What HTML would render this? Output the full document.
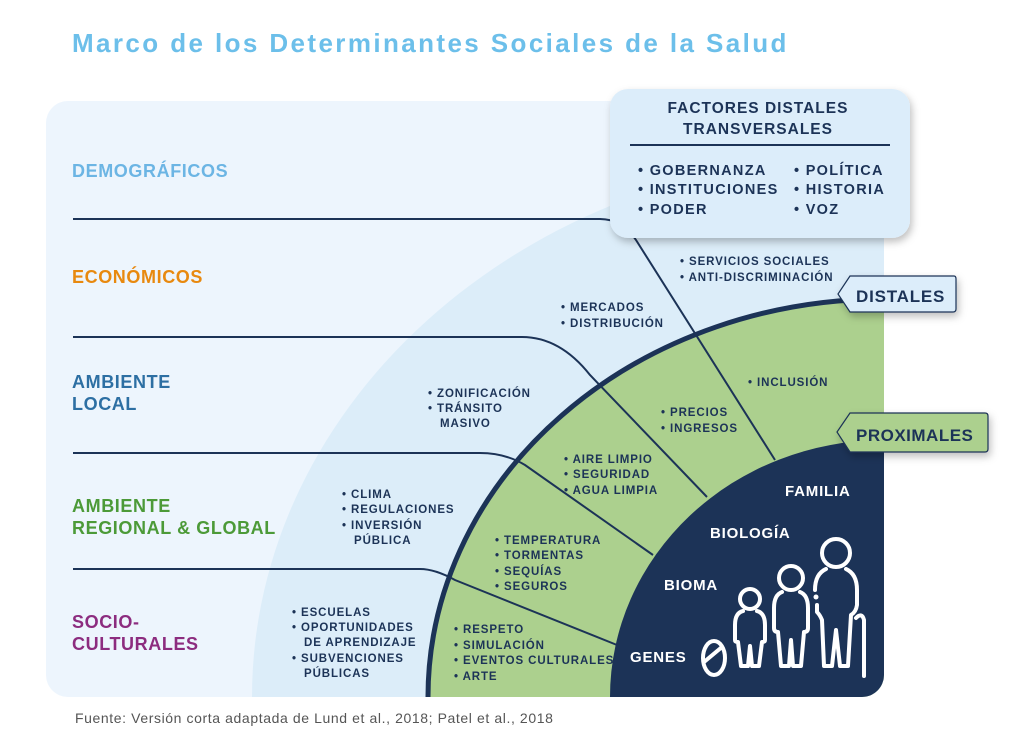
<!DOCTYPE html>
<html><head><meta charset="utf-8"><style>
html,body{margin:0;padding:0;background:#fff;width:1024px;height:756px;overflow:hidden;}
svg{display:block;font-family:"Liberation Sans",sans-serif;font-weight:bold;}
</style></head><body>
<svg width="1024" height="756" viewBox="0 0 1024 756" xmlns="http://www.w3.org/2000/svg">
<defs>
<clipPath id="card"><rect x="46" y="101" width="838" height="596" rx="22"/></clipPath>
<filter id="sh" x="-20%" y="-20%" width="140%" height="150%"><feDropShadow dx="2" dy="4" stdDeviation="4" flood-color="#000" flood-opacity="0.25"/></filter>
</defs>
<text x="72" y="52" font-size="26" fill="#6cbfea" letter-spacing="2.4">Marco de los Determinantes Sociales de la Salud</text>
<rect x="46" y="101" width="838" height="596" rx="22" fill="#edf5fd"/>
<g clip-path="url(#card)">
<ellipse cx="884" cy="697" rx="632" ry="545" fill="#dcedf9"/>
<ellipse cx="884" cy="697" rx="456" ry="398" fill="#acd08e"/>
<ellipse cx="884" cy="697" rx="456" ry="398" fill="none" stroke="#1c3357" stroke-width="5"/>
<ellipse cx="884" cy="697" rx="274" ry="257" fill="#1c3357"/>
</g>
<g fill="none" stroke="#1c3357" stroke-width="2">
<path d="M73 219 H600 Q622 219 636 240 L775 460"/>
<path d="M73 337 H522 Q560 337 590 375 L707 497"/>
<path d="M73 453 H480 Q505 453 525 465 L653 555"/>
<path d="M73 569 H420 Q435 569 455 580 L617 645"/>
</g>
<g font-size="18" letter-spacing="0.6">
<text x="72" y="177" fill="#6cb5e4">DEMOGRÁFICOS</text>
<text x="72" y="283" fill="#e8890f">ECONÓMICOS</text>
<text x="72" y="388" fill="#2d6fa3">AMBIENTE</text>
<text x="72" y="410" fill="#2d6fa3">LOCAL</text>
<text x="72" y="512" fill="#4c9a38">AMBIENTE</text>
<text x="72" y="534" fill="#4c9a38">REGIONAL &amp; GLOBAL</text>
<text x="72" y="628" fill="#8c2c7f">SOCIO-</text>
<text x="72" y="650" fill="#8c2c7f">CULTURALES</text>
</g>
<g font-size="11.5" fill="#1c3357" letter-spacing="0.9">
<text x="680" y="265">• SERVICIOS SOCIALES</text>
<text x="680" y="281">• ANTI-DISCRIMINACIÓN</text>
<text x="561" y="311">• MERCADOS</text>
<text x="561" y="327">• DISTRIBUCIÓN</text>
<text x="748" y="386">• INCLUSIÓN</text>
<text x="428" y="397">• ZONIFICACIÓN</text>
<text x="428" y="412">• TRÁNSITO</text>
<text x="440" y="427">MASIVO</text>
<text x="661" y="416">• PRECIOS</text>
<text x="661" y="432">• INGRESOS</text>
<text x="564" y="463">• AIRE LIMPIO</text>
<text x="564" y="478">• SEGURIDAD</text>
<text x="564" y="494">• AGUA LIMPIA</text>
<text x="342" y="498">• CLIMA</text>
<text x="342" y="513">• REGULACIONES</text>
<text x="342" y="529">• INVERSIÓN</text>
<text x="354" y="544">PÚBLICA</text>
<text x="495" y="544">• TEMPERATURA</text>
<text x="495" y="559">• TORMENTAS</text>
<text x="495" y="575">• SEQUÍAS</text>
<text x="495" y="590">• SEGUROS</text>
<text x="292" y="616">• ESCUELAS</text>
<text x="292" y="631">• OPORTUNIDADES</text>
<text x="304" y="646">DE APRENDIZAJE</text>
<text x="292" y="662">• SUBVENCIONES</text>
<text x="304" y="677">PÚBLICAS</text>
<text x="454" y="633">• RESPETO</text>
<text x="454" y="649">• SIMULACIÓN</text>
<text x="454" y="664">• EVENTOS CULTURALES</text>
<text x="454" y="680">• ARTE</text>
</g>
<g font-size="15" fill="#fff" letter-spacing="0.8">
<text x="785" y="496">FAMILIA</text>
<text x="710" y="538">BIOLOGÍA</text>
<text x="664" y="590">BIOMA</text>
<text x="630" y="662">GENES</text>
</g>
<g fill="none" stroke="#fff" stroke-width="4" stroke-linecap="round" stroke-linejoin="round">
<ellipse cx="714" cy="658" rx="11" ry="17"/>
<path d="M704 662 L722 647"/>
<circle cx="750" cy="599" r="10"/>
<path d="M743 611 Q735 613 735 625 V640 Q735 642 738 642 L741 666 H748 L750 646 L752 666 H759 L762 642 Q765 642 765 640 V625 Q765 613 757 611"/>
<circle cx="791" cy="578" r="12"/>
<path d="M782 592 Q774 595 774 608 V628 Q774 632 778 632 L781 666 H789 L791 640 L793 666 H801 L804 632 Q808 632 808 628 V608 Q808 595 800 592"/>
<circle cx="836" cy="553" r="14"/>
<path d="M826 569 Q815 574 815 590 M817 605 V612 Q820 615 822 620 L824 666 H832 L836 630 L840 666 H848 L851 615 Q856 612 857 605 V590 Q857 574 846 569"/>
<path d="M856 618 Q862 612 864 620 V676"/>
</g>
<circle cx="816" cy="597" r="2.5" fill="#fff"/>
<g filter="url(#sh)">
<rect x="610" y="89" width="300" height="149" rx="18" fill="#dcedfa"/>
</g>
<line x1="630" y1="145" x2="890" y2="145" stroke="#1c3357" stroke-width="2"/>
<g font-size="15.5" fill="#1c3357" text-anchor="middle" letter-spacing="1">
<text x="758" y="113">FACTORES DISTALES</text>
<text x="758" y="134">TRANSVERSALES</text>
</g>
<g font-size="14.5" fill="#1c3357" letter-spacing="1.3">
<text x="638" y="175">• GOBERNANZA</text>
<text x="638" y="194">• INSTITUCIONES</text>
<text x="638" y="214">• PODER</text>
<text x="794" y="175">• POLÍTICA</text>
<text x="794" y="194">• HISTORIA</text>
<text x="794" y="214">• VOZ</text>
</g>
<g filter="url(#sh)">
<path d="M850 276 H954 Q956 276 956 279 V309 Q956 312 953 312 H850 L838 294 Z" fill="#dcedfa" stroke="#1c3357" stroke-width="1.2"/>
<path d="M850 413 H985 Q988 413 988 416 V449 Q988 452 985 452 H850 L837 432 Z" fill="#acd08e" stroke="#1c3357" stroke-width="1.2"/>
</g>
<text x="856" y="302" font-size="17" fill="#1c3357" letter-spacing="0.8">DISTALES</text>
<text x="856" y="441" font-size="17" fill="#1c3357" letter-spacing="0.5">PROXIMALES</text>
<text x="75" y="723" font-size="14" font-weight="normal" fill="#555" letter-spacing="0.6">Fuente: Versión corta adaptada de Lund et al., 2018; Patel et al., 2018</text>
</svg>
</body></html>
